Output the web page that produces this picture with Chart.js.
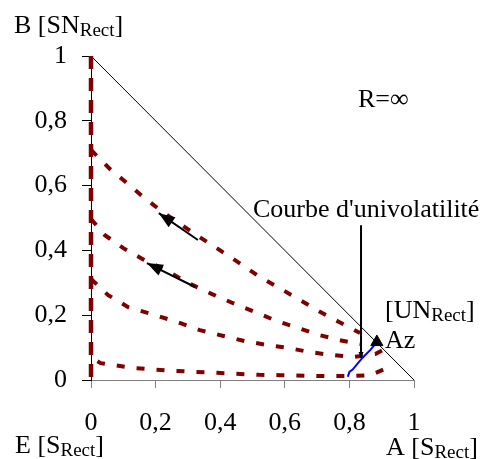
<!DOCTYPE html>
<html>
<head>
<meta charset="utf-8">
<script src="https://cdn.jsdelivr.net/npm/chart.js@4/dist/chart.umd.min.js"></script>
<style>
  html, body { margin: 0; padding: 0; background: #fff; }
  #wrap { width: 482px; height: 459px; }
</style>
</head>
<body>
<div id="wrap"><canvas id="chart" width="482" height="459"></canvas></div>
<script>
// ── Data ─────────────────────────────────────────────────────────────────────

const TICKS = [0, 0.2, 0.4, 0.6, 0.8, 1];

// triangle edge B–A
const edgeX = [0, 1];
const edgeY = [1, 0];

// residue curves, R = ∞
const curveBEx = [0, 0];
const curveBEy = [1, 0];

const curve2x = [0, 0.06, 0.115, 0.165, 0.22, 0.275, 0.33, 0.40, 0.467, 0.523, 0.585, 0.647, 0.706, 0.768, 0.833];
const curve2y = [0.71, 0.65, 0.605, 0.562, 0.52, 0.482, 0.445, 0.40, 0.356, 0.318, 0.283, 0.247, 0.212, 0.179, 0.145];

const curve3x = [0, 0.043, 0.1, 0.16, 0.23, 0.285, 0.31, 0.375, 0.44, 0.508, 0.575, 0.638, 0.706, 0.77, 0.833];
const curve3y = [0.497, 0.447, 0.407, 0.373, 0.34, 0.309, 0.295, 0.265, 0.237, 0.21, 0.182, 0.162, 0.139, 0.123, 0.111];

const curve4x = [0, 0.053, 0.115, 0.2, 0.275, 0.337, 0.41, 0.477, 0.545, 0.61, 0.678, 0.746, 0.81, 0.88, 0.905];
const curve4y = [0.312, 0.262, 0.225, 0.2, 0.176, 0.154, 0.136, 0.12, 0.108, 0.099, 0.086, 0.077, 0.071, 0.08, 0.093];

const curve5x = [0.02, 0.03, 0.13, 0.26, 0.39, 0.52, 0.585, 0.73, 0.795, 0.865, 0.935];
const curve5y = [0.058, 0.052, 0.037, 0.028, 0.022, 0.016, 0.015, 0.012, 0.012, 0.015, 0.045];

// univolatility curve (blue) and azeotrope
const univolX = [0.795, 0.80, 0.81, 0.84, 0.865, 0.885];
const univolY = [0.01, 0.025, 0.032, 0.068, 0.093, 0.117];
const azX = [0.885];
const azY = [0.117];

// arrows (tail → tip)
const arrow1X = [0.331, 0.21];
const arrow1Y = [0.432, 0.515];
const arrow2X = [0.322, 0.173];
const arrow2Y = [0.287, 0.361];
const pointerX = [0.836, 0.836];
const pointerY = [0.478, 0.068];

// ── Helpers ──────────────────────────────────────────────────────────────────

const pts = (xs, ys) => xs.map((x, i) => ({ x, y: ys[i] }));

const RED  = '#800000';
const FONT = '"Liberation Serif", "Times New Roman", serif';

function lineDs(xs, ys, extra) {
  return Object.assign({
    data: pts(xs, ys),
    showLine: true,
    fill: false,
    clip: false,
    pointRadius: 0,
    tension: 0,
    borderColor: RED,
    borderWidth: 4,
    borderDash: [8, 12],
    borderCapStyle: 'butt',
  }, extra);
}

// arrowheads + labels
const overlay = {
  id: 'overlay',
  afterDatasetsDraw(chart) {
    const { ctx, scales: { x, y } } = chart;

    const head = (xs, ys, len, half) => {
      const x0 = x.getPixelForValue(xs[0]), y0 = y.getPixelForValue(ys[0]);
      const x1 = x.getPixelForValue(xs[1]), y1 = y.getPixelForValue(ys[1]);
      const a = Math.atan2(y1 - y0, x1 - x0);
      ctx.save();
      ctx.fillStyle = '#000';
      ctx.beginPath();
      ctx.moveTo(x1, y1);
      ctx.lineTo(x1 - len * Math.cos(a) + half * Math.sin(a), y1 - len * Math.sin(a) - half * Math.cos(a));
      ctx.lineTo(x1 - len * Math.cos(a) - half * Math.sin(a), y1 - len * Math.sin(a) + half * Math.cos(a));
      ctx.closePath();
      ctx.fill();
      ctx.restore();
    };
    head(arrow1X, arrow1Y, 16, 6);
    head(arrow2X, arrow2Y, 16, 6);
    head(pointerX, pointerY, 6, 2.5);

    // text with subscript
    const label = (x0, yb, parts) => {
      ctx.save();
      ctx.fillStyle = '#000';
      ctx.textBaseline = 'alphabetic';
      ctx.textAlign = 'left';
      let cx = x0;
      for (const [t, sub] of parts) {
        ctx.font = (sub ? '19px ' : '26px ') + FONT;
        ctx.fillText(t, cx, yb + (sub ? 3 : 0));
        cx += ctx.measureText(t).width;
      }
      ctx.restore();
    };
    label(14, 33,  [['B [SN', 0], ['Rect', 1], [']', 0]]);
    label(15, 453, [['E [S', 0], ['Rect', 1], [']', 0]]);
    label(386, 455, [['A [S', 0], ['Rect', 1], [']', 0]]);
    label(358, 107, [['R=∞', 0]]);
    label(253, 217, [['Courbe d\'univolatilité', 0]]);
    label(385, 318, [['[UN', 0], ['Rect', 1], [']', 0]]);
    label(385, 348, [['Az', 0]]);
  },
};

// ── Chart ────────────────────────────────────────────────────────────────────

new Chart(document.getElementById('chart'), {
  type: 'scatter',
  data: {
    datasets: [
      { data: pts(azX, azY), pointStyle: 'triangle', pointRadius: 7,
        backgroundColor: '#000', borderColor: '#000', borderWidth: 1 },
      lineDs(arrow1X, arrow1Y, { borderColor: '#000', borderWidth: 2, borderDash: [] }),
      lineDs(arrow2X, arrow2Y, { borderColor: '#000', borderWidth: 2, borderDash: [] }),
      lineDs(pointerX, pointerY, { borderColor: '#000', borderWidth: 2, borderDash: [] }),
      lineDs(univolX, univolY, { borderColor: '#0000ff', borderWidth: 2, borderDash: [] }),
      lineDs(curveBEx, curveBEy, { borderWidth: 4.5, borderDash: [13, 9] }),
      lineDs(curve2x, curve2y),
      lineDs(curve3x, curve3y),
      lineDs(curve4x, curve4y),
      lineDs(curve5x, curve5y),
      lineDs(edgeX, edgeY, { borderColor: '#000', borderWidth: 1, borderDash: [] }),
    ],
  },
  options: {
    responsive: false,
    animation: false,
    events: [],
    layout: { padding: { top: 56, right: 68, left: 0, bottom: 0 } },
    plugins: { legend: { display: false }, tooltip: { enabled: false } },
    scales: {
      x: {
        type: 'linear', min: 0, max: 1,
        afterBuildTicks: s => { s.ticks = TICKS.map(v => ({ value: v })); },
        afterFit: s => { s.height = 79; },
        border: { color: '#808080', width: 1 },
        grid: { drawOnChartArea: false, drawTicks: true, tickLength: 8, color: '#808080' },
        ticks: {
          padding: 20, color: '#000', maxRotation: 0,
          font: { family: FONT, size: 26, lineHeight: 1.2 },
          callback: v => String(v).replace('.', ','),
        },
      },
      y: {
        type: 'linear', min: 0, max: 1,
        afterBuildTicks: s => { s.ticks = TICKS.map(v => ({ value: v })); },
        afterFit: s => { s.width = 91; },
        border: { color: '#000', width: 1 },
        grid: { drawOnChartArea: false, drawTicks: true, tickLength: 9, color: '#000' },
        ticks: {
          padding: 15, color: '#000',
          font: { family: FONT, size: 26 },
          callback: v => String(v).replace('.', ','),
        },
      },
    },
  },
  plugins: [overlay],
});
</script>
</body>
</html>
